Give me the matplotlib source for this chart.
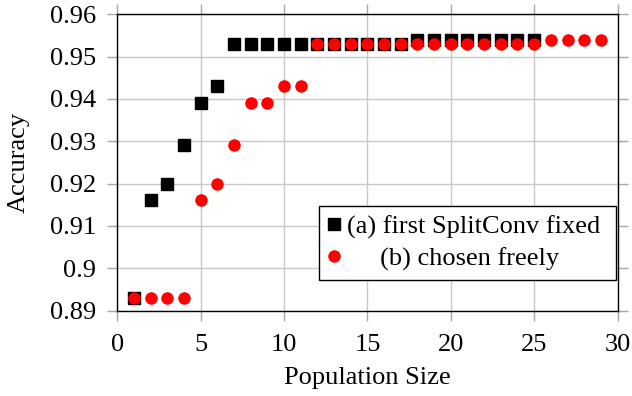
import matplotlib
matplotlib.use('Agg')
import matplotlib.pyplot as plt
from matplotlib.ticker import FuncFormatter

plt.rcParams['font.family'] = ['Liberation Serif', 'DejaVu Serif']

# Data
pop_a = list(range(1, 26))
acc_a = [0.893, 0.916, 0.920, 0.929, 0.939, 0.943] + [0.953] * 11 + [0.954] * 8

pop_b = list(range(1, 30))
acc_b = [0.893] * 4 + [0.916, 0.920, 0.929, 0.939, 0.939, 0.943, 0.943] + [0.953] * 14 + [0.954] * 4

xticks = [0, 5, 10, 15, 20, 25, 30]
yticks = [0.89, 0.90, 0.91, 0.92, 0.93, 0.94, 0.95, 0.96]

label_a = '(a) first SplitConv fixed '
label_b = '     (b) chosen freely'

fig = plt.figure(figsize=(6.32, 3.96), dpi=100)
ax = fig.add_axes([0.1856, 0.2159, 0.7915, 0.748])

ax.plot(pop_a, acc_a, linestyle='none', marker='s', markersize=8.2,
        color='black', label=label_a, zorder=3)
ax.plot(pop_b, acc_b, linestyle='none', marker='o', markersize=9,
        color='red', markeredgewidth=0, label=label_b, zorder=4)

ax.set_xlim(0, 30)
ax.set_ylim(0.89, 0.96)
ax.set_xticks(xticks)
ax.set_yticks(yticks)
ax.yaxis.set_major_formatter(FuncFormatter(lambda v, p: '%g' % round(v, 3)))

ax.grid(True, color='#c8c8c8', linewidth=1)
ax.set_axisbelow(True)
ax.tick_params(direction='out', length=7.5, width=1, color='#a8a8a8',
               labelsize=19, top=True, right=True)
ax.tick_params(axis='x', pad=9.5)
ax.tick_params(axis='y', pad=8)
for s in ax.spines.values():
    s.set_linewidth(1)
    s.set_zorder(5)

ax.set_xlabel('Population Size', fontsize=19, labelpad=7.5)
ax.set_ylabel('Accuracy', fontsize=19, labelpad=14)

leg = ax.legend(loc='lower right', bbox_to_anchor=(0.9964, 0.103), fontsize=19,
                frameon=True, fancybox=False, edgecolor='black', framealpha=1,
                handlelength=0.45, handletextpad=0.25, borderpad=0.35,
                labelspacing=0.3, borderaxespad=0)
leg.get_frame().set_linewidth(1)

fig.savefig('out.png', dpi=100)
